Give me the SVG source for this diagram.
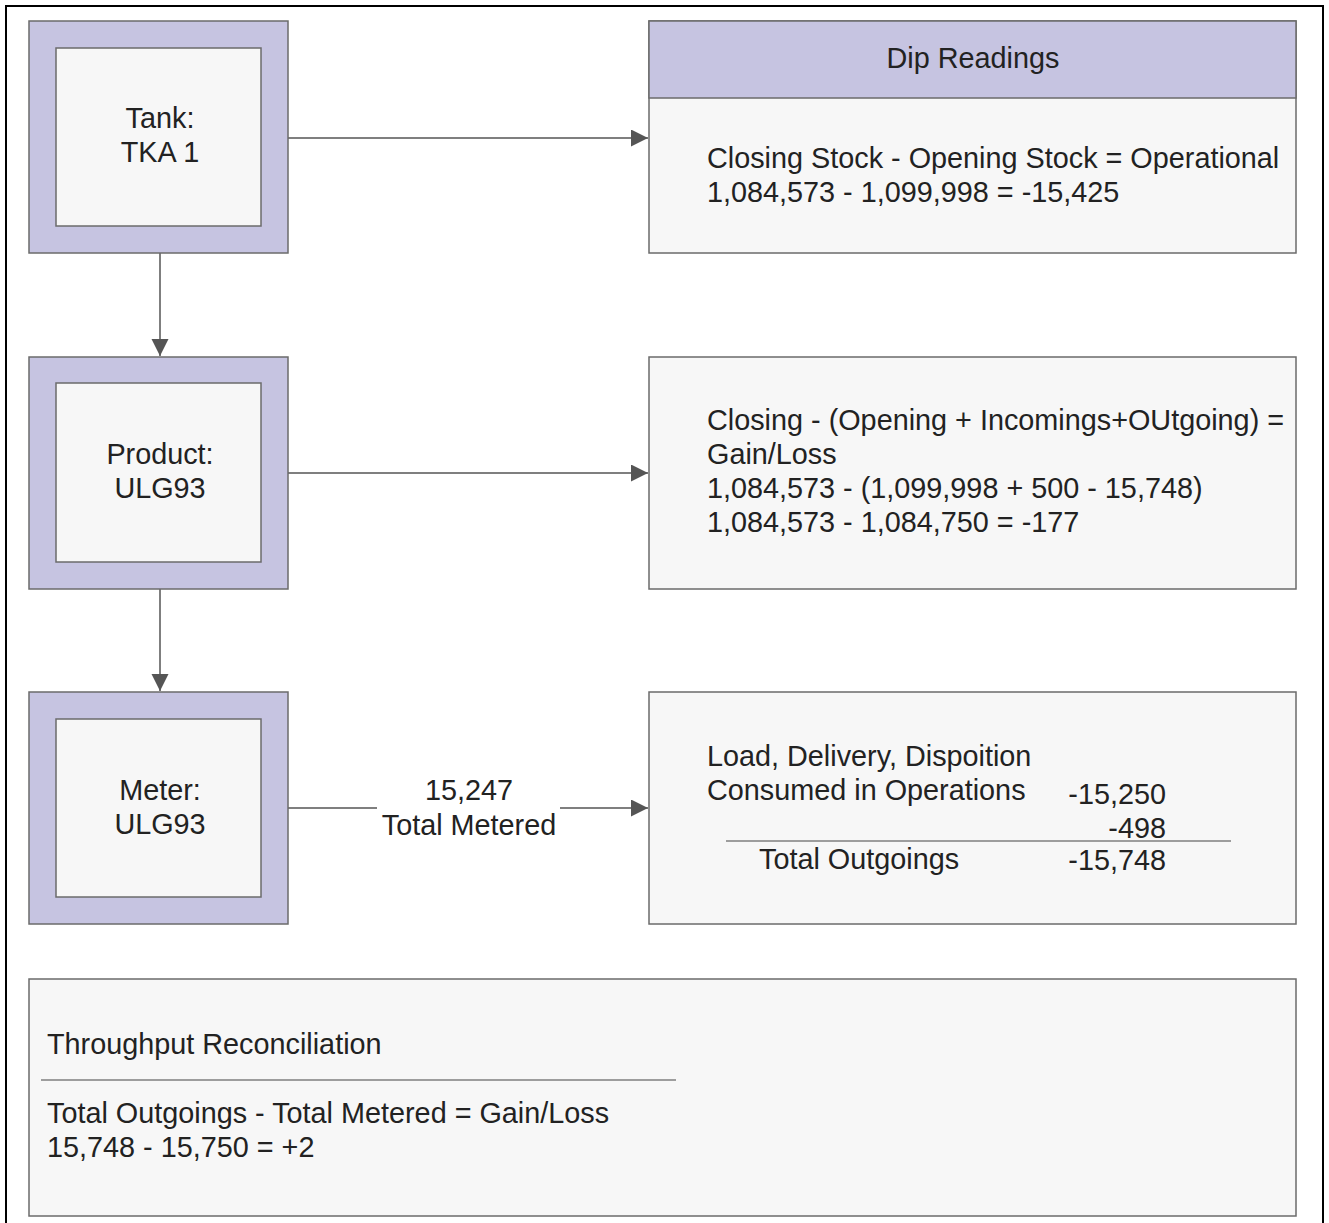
<svg xmlns="http://www.w3.org/2000/svg" width="1329" height="1223" viewBox="0 0 1329 1223">
<style>
.outer{fill:#c6c4e1;stroke:#6b6b6b;stroke-width:1.5}
.inner{fill:#f7f7f7;stroke:#6b6b6b;stroke-width:1.5}
.box{fill:#f7f7f7;stroke:#6b6b6b;stroke-width:1.5}
.hdr{fill:#c6c4e1;stroke:#6b6b6b;stroke-width:1.5}
text{font-family:"Liberation Sans",Arial,sans-serif;font-size:28.8px;fill:#222}
.c{text-anchor:middle}
.r{text-anchor:end}
.edge{stroke:#555;stroke-width:1.5;fill:none;marker-end:url(#ah)}
.rule{stroke:#444;stroke-width:1.2}
</style>
<defs>
<marker id="ah" markerWidth="18" markerHeight="18" refX="17" refY="8.5" orient="auto" markerUnits="userSpaceOnUse">
<path d="M0,0 L17,8.5 L0,17 Z" fill="#555"/>
</marker>
</defs>
<rect x="0" y="0" width="1329" height="1223" fill="#fff"/>
<rect x="6" y="6" width="1317" height="1230" fill="none" stroke="#000" stroke-width="2"/>
<g id="connectors">
<line class="edge" x1="288" y1="138" x2="648" y2="138"/>
<line class="edge" x1="288" y1="473" x2="648" y2="473"/>
<line class="edge" x1="160" y1="253" x2="160" y2="356"/>
<line class="edge" x1="160" y1="589" x2="160" y2="691"/>
<line stroke="#555" stroke-width="1.5" x1="288" y1="808" x2="377" y2="808"/>
<line class="edge" x1="560" y1="808" x2="648" y2="808"/>
<text class="c" x="469" y="800">15,247</text>
<text class="c" x="469" y="835">Total Metered</text>
</g>
<g id="tank">
<rect class="outer" x="29" y="21" width="259" height="232"/>
<rect class="inner" x="56" y="48" width="205" height="178"/>
<text class="c" x="160" y="128">Tank:</text>
<text class="c" x="160" y="162">TKA 1</text>
</g>
<g id="product">
<rect class="outer" x="29" y="357" width="259" height="232"/>
<rect class="inner" x="56" y="383" width="205" height="179"/>
<text class="c" x="160" y="464">Product:</text>
<text class="c" x="160" y="498">ULG93</text>
</g>
<g id="meter">
<rect class="outer" x="29" y="692" width="259" height="232"/>
<rect class="inner" x="56" y="719" width="205" height="178"/>
<text class="c" x="160" y="800">Meter:</text>
<text class="c" x="160" y="834">ULG93</text>
</g>
<g id="dip-readings">
<rect class="box" x="649" y="21" width="647" height="232"/>
<rect class="hdr" x="649" y="21" width="647" height="77"/>
<text class="c" x="973" y="68">Dip Readings</text>
<text x="707" y="168">Closing Stock - Opening Stock = Operational</text>
<text x="707" y="202">1,084,573 - 1,099,998 = -15,425</text>
</g>
<g id="gain-loss">
<rect class="box" x="649" y="357" width="647" height="232"/>
<text x="707" y="430">Closing - (Opening + Incomings+OUtgoing) =</text>
<text x="707" y="464">Gain/Loss</text>
<text x="707" y="498">1,084,573 - (1,099,998 + 500 - 15,748)</text>
<text x="707" y="532">1,084,573 - 1,084,750 = -177</text>
</g>
<g id="outgoings">
<rect class="box" x="649" y="692" width="647" height="232"/>
<text x="707" y="766">Load, Delivery, Dispoition</text>
<text x="707" y="800">Consumed in Operations</text>
<text class="r" x="1166" y="804">-15,250</text>
<text class="r" x="1166" y="838">-498</text>
<line class="rule" x1="726" y1="841" x2="1231" y2="841"/>
<text x="759" y="869">Total Outgoings</text>
<text class="r" x="1166" y="870">-15,748</text>
</g>
<g id="throughput">
<rect class="box" x="29" y="979" width="1267" height="237"/>
<text x="47" y="1054">Throughput Reconciliation</text>
<line class="rule" x1="41" y1="1080" x2="676" y2="1080"/>
<text x="47" y="1123">Total Outgoings - Total Metered = Gain/Loss</text>
<text x="47" y="1157">15,748 - 15,750 = +2</text>
</g>
</svg>
